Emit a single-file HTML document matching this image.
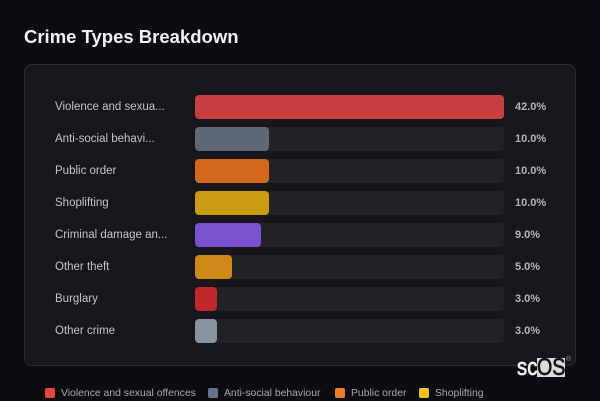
<!DOCTYPE html>
<html><head><meta charset="utf-8"><style>
*{margin:0;padding:0;box-sizing:border-box}
html,body{width:600px;height:400px;overflow:hidden;background:#0d0c11;font-family:"Liberation Sans",sans-serif}
.title{position:absolute;left:24px;top:25px;font-size:18.5px;font-weight:bold;color:#f2f2f5;line-height:24px}
.card{position:absolute;left:24px;top:64px;width:552px;height:302px;background:#17171b;border:1px solid #2c2c31;border-radius:8px}
.lbl{position:absolute;left:55px;font-size:11.5px;color:#c4c4ca;line-height:16px}
.track{position:absolute;left:195px;width:309px;height:24px;background:#222226;border-radius:4px}
.bar{position:absolute;left:195px;height:24px;border-radius:4px}
.val{position:absolute;left:515px;font-size:11px;font-weight:bold;color:#b4b4bc;line-height:16px}
.lg{position:absolute;top:388px;width:10px;height:10px;border-radius:2px}
.lt{position:absolute;top:387px;font-size:10.4px;color:#a8a8b0;line-height:14px;white-space:nowrap}
</style></head><body>
<div class="title">Crime Types Breakdown</div>
<div class="card"></div>

<div class="lbl" style="top:99px">Violence and sexua...</div>
<div class="track" style="top:95px"></div><div class="bar" style="top:95px;width:309px;background:#c83f40"></div>
<div class="val" style="top:99px">42.0%</div>

<div class="lbl" style="top:131px">Anti-social behavi...</div>
<div class="track" style="top:127px"></div><div class="bar" style="top:127px;width:74px;background:#5e6978"></div>
<div class="val" style="top:131px">10.0%</div>

<div class="lbl" style="top:163px">Public order</div>
<div class="track" style="top:159px"></div><div class="bar" style="top:159px;width:74px;background:#d2671d"></div>
<div class="val" style="top:163px">10.0%</div>

<div class="lbl" style="top:195px">Shoplifting</div>
<div class="track" style="top:191px"></div><div class="bar" style="top:191px;width:74px;background:#c99c14"></div>
<div class="val" style="top:195px">10.0%</div>

<div class="lbl" style="top:227px">Criminal damage an...</div>
<div class="track" style="top:223px"></div><div class="bar" style="top:223px;width:66px;background:#7a52cf"></div>
<div class="val" style="top:227px">9.0%</div>

<div class="lbl" style="top:259px">Other theft</div>
<div class="track" style="top:255px"></div><div class="bar" style="top:255px;width:37px;background:#cf8918"></div>
<div class="val" style="top:259px">5.0%</div>

<div class="lbl" style="top:291px">Burglary</div>
<div class="track" style="top:287px"></div><div class="bar" style="top:287px;width:22px;background:#c0272a"></div>
<div class="val" style="top:291px">3.0%</div>

<div class="lbl" style="top:323px">Other crime</div>
<div class="track" style="top:319px"></div><div class="bar" style="top:319px;width:22px;background:#8893a2"></div>
<div class="val" style="top:323px">3.0%</div>

<div class="lg" style="left:45px;background:#e84646"></div><div class="lt" style="left:61px">Violence and sexual offences</div>
<div class="lg" style="left:208px;background:#66738a"></div><div class="lt" style="left:224px">Anti-social behaviour</div>
<div class="lg" style="left:335px;background:#f07a22"></div><div class="lt" style="left:351px">Public order</div>
<div class="lg" style="left:419px;background:#eec21a"></div><div class="lt" style="left:435px">Shoplifting</div>

<div style="position:absolute;left:517px;top:356px;font-size:24px;color:#f0f0f0;line-height:24px;font-family:'Liberation Sans',sans-serif;transform:scaleX(0.85);transform-origin:0 0;-webkit-text-stroke:0.7px #f0f0f0">sc</div>
<div style="position:absolute;left:537px;top:358px;width:28px;height:19px;background:#dcdcdc"></div>
<div style="position:absolute;left:537px;top:356px;font-size:24px;color:#141414;line-height:24px;font-family:'Liberation Sans',sans-serif;transform:scaleX(0.82);transform-origin:0 0;-webkit-text-stroke:0.7px #141414">OS</div>
<div style="position:absolute;left:566px;top:356px;font-size:7px;color:#999;line-height:8px">®</div>
</body></html>
